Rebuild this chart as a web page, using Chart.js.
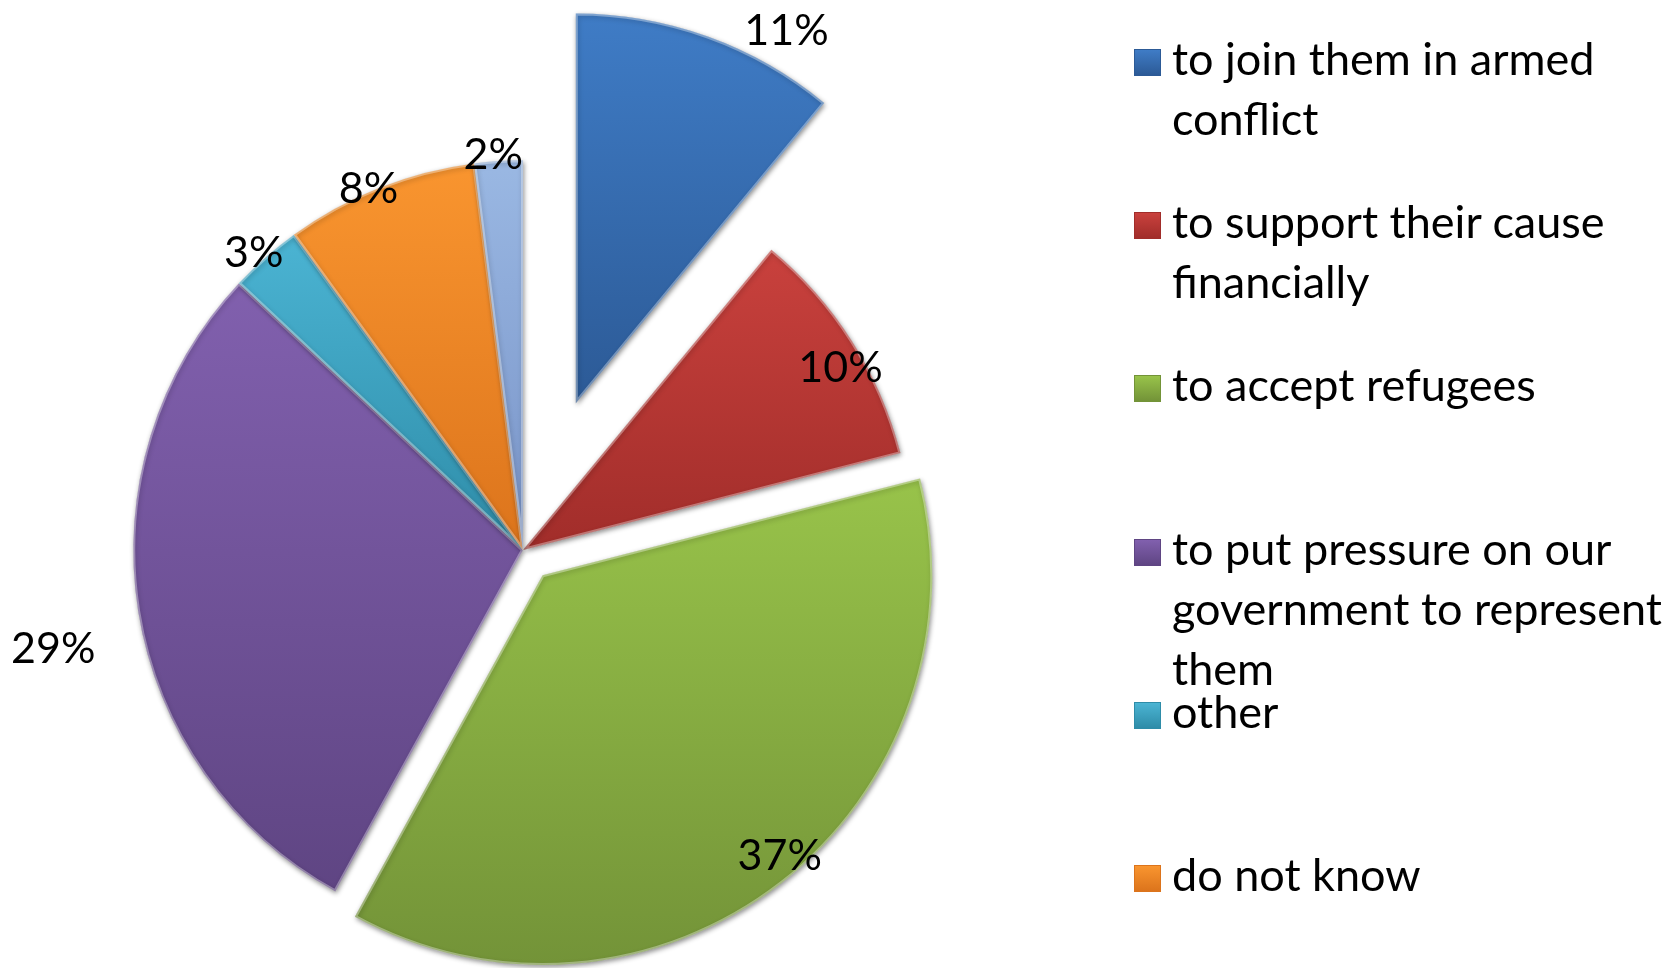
<!DOCTYPE html>
<html>
<head>
<meta charset="utf-8">
<script src="https://cdn.jsdelivr.net/npm/chart.js@4.4.0/dist/chart.umd.min.js"></script>
<style>
  html, body { margin: 0; padding: 0; background: #fff; }
  #wrap { position: relative; width: 1673px; height: 968px; overflow: hidden; }
  #pie { position: absolute; left: 0; top: 0; }
  #legend { position: absolute; left: 1134px; top: 0; font-family: Lato, sans-serif; font-size: 45px; color: #000; }
  .item { position: absolute; left: 0; }
  .box { position: absolute; left: 0; top: 21px; width: 27px; height: 27px; box-sizing: border-box; }
  .txt { position: absolute; left: 38px; top: 0; line-height: 60px; white-space: nowrap; }
</style>
</head>
<body>
<div id="wrap">
  <canvas id="pie" width="1673" height="968"></canvas>
  <div id="legend"></div>
</div>
<script>
// categories (legend text, one entry per line); the last one is cut off in the picture
var categories = [
  ['to join them in armed', 'conflict'],
  ['to support their cause', 'financially'],
  ['to accept refugees'],
  ['to put pressure on our', 'government to represent', 'them'],
  ['other'],
  ['do not know'],
  ['']
];
// share of answers, %
var shares = [11, 10, 37, 29, 3, 8, 2];

// colours, top and bottom of each slice
var lightColors = ['#3f7cc6', '#c9413d', '#98c34a', '#8160ae', '#4bb4d3', '#f9952f', '#9ab8e3'];
var darkColors  = ['#2c5a96', '#a12d2a', '#739338', '#5f4583', '#2e8ca8', '#dc741c', '#7893c7'];

// exploded slices, px
var explode = [156, 0, 32, 0, 0, 0, 0];
// label placement: turn (deg, clockwise) from the slice middle, distance as part of the radius
var labelTurn = [9.6, 2.4, -2.5, -2.7, -0.7, -1.5, -0.7];
var labelDist = [1.10, 0.94, 0.94, 1.23, 1.03, 1.01, 1.02];

var FONT = 'Lato, sans-serif';

// pull slices out and give each one its own top-to-bottom gradient
var explodePlugin = {
  id: 'explode',
  afterDatasetUpdate: function(chart, args) {
    var meta = chart.getDatasetMeta(args.index);
    var ctx = chart.ctx;
    meta.data.forEach(function(arc, i) {
      var mid = (arc.startAngle + arc.endAngle) / 2;
      var d = explode[i] || 0;
      arc.x += Math.cos(mid) * d;
      arc.y += Math.sin(mid) * d;
      // vertical extent of the slice
      var r = arc.outerRadius;
      var ys = [arc.y, arc.y + Math.sin(arc.startAngle) * r, arc.y + Math.sin(arc.endAngle) * r];
      var k;
      for (k = -3; k <= 3; k++) {
        var a = Math.PI / 2 + k * Math.PI;
        if (a > arc.startAngle && a < arc.endAngle) ys.push(arc.y + Math.sin(a) * r);
      }
      var top = Math.min.apply(null, ys), bottom = Math.max.apply(null, ys);
      var g = ctx.createLinearGradient(0, top, 0, bottom);
      g.addColorStop(0, lightColors[i]);
      g.addColorStop(1, darkColors[i]);
      arc.options = Object.assign({}, arc.options, { backgroundColor: g });
    });
  },
  beforeDatasetDraw: function(chart) {
    var c = chart.ctx;
    c.save();
    c.shadowColor = 'rgba(0,0,0,0.45)';
    c.shadowBlur = 5;
    c.shadowOffsetX = 1;
    c.shadowOffsetY = 2;
  },
  afterDatasetDraw: function(chart) {
    chart.ctx.restore();
  }
};

var labelPlugin = {
  id: 'pctLabels',
  afterDatasetsDraw: function(chart) {
    var c = chart.ctx;
    var meta = chart.getDatasetMeta(0);
    var size = 43;
    c.save();
    c.font = size + 'px ' + FONT;
    c.fillStyle = '#000';
    c.textAlign = 'center';
    c.textBaseline = 'alphabetic';
    meta.data.forEach(function(arc, i) {
      var a = (arc.startAngle + arc.endAngle) / 2 + labelTurn[i] * Math.PI / 180;
      var r = arc.outerRadius * labelDist[i];
      c.fillText(shares[i] + '%', arc.x + Math.cos(a) * r, arc.y + Math.sin(a) * r + size * 0.36);
    });
    c.restore();
  }
};

function makeLegend() {
  var box = document.getElementById('legend');
  categories.forEach(function(lines, i) {
    var item = document.createElement('div');
    item.className = 'item';
    item.style.top = (28 + i * 163.2) + 'px';
    var sq = document.createElement('span');
    sq.className = 'box';
    sq.style.background = 'linear-gradient(' + lightColors[i] + ', ' + darkColors[i] + ')';
    sq.style.border = '1px solid ' + darkColors[i];
    var txt = document.createElement('div');
    txt.className = 'txt';
    txt.innerHTML = lines.join('<br>');
    item.appendChild(sq);
    item.appendChild(txt);
    box.appendChild(item);
  });
}

function makePie() {
  new Chart(document.getElementById('pie'), {
    type: 'pie',
    data: {
      labels: categories.map(function(l) { return l.join(' '); }),
      datasets: [{
        data: shares,
        backgroundColor: lightColors,
        borderColor: 'rgba(255,255,255,0.35)',
        borderWidth: 2,
        borderAlign: 'inner',
        radius: 390,
        clip: false
      }]
    },
    options: {
      responsive: false,
      animation: false,
      events: [],
      layout: { padding: { left: 0, right: 627, top: 132, bottom: 0 } },
      plugins: {
        legend: { display: false },
        tooltip: { enabled: false }
      }
    },
    plugins: [explodePlugin, labelPlugin]
  });
}

makeLegend();
document.fonts.load('45px Lato').then(makePie, makePie);
</script>
</body>
</html>
